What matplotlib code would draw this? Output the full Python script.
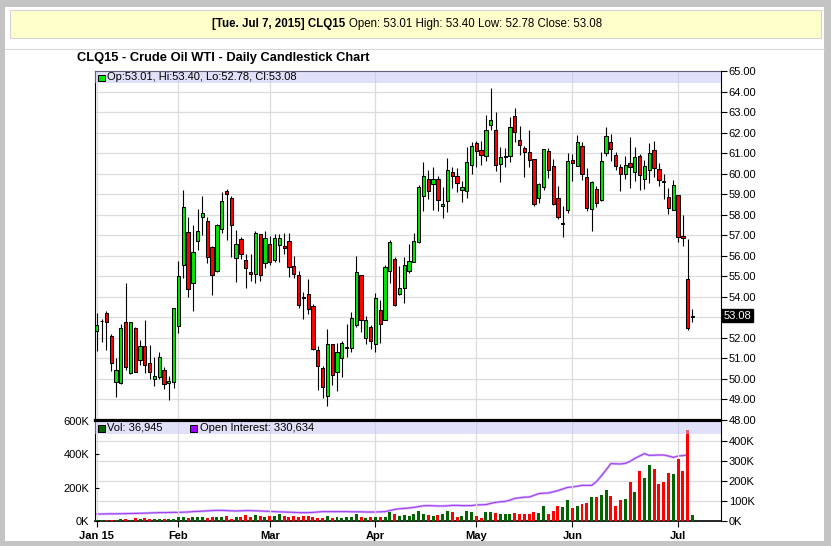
import matplotlib
matplotlib.use("Agg")
import matplotlib.pyplot as plt
from matplotlib.patches import Rectangle
from matplotlib.ticker import FixedLocator, FuncFormatter
import numpy as np

plt.rcParams['font.family'] = ['Liberation Sans', 'DejaVu Sans']

# daily OHLC, Jan 2015 - Jul 7 2015
opens = [52.34, 52.80, 53.20, 52.10, 49.84, 49.78, 52.77, 50.27, 52.47, 50.92,
         51.61, 50.77, 50.02, 50.09, 50.43, 49.81, 49.84, 52.57, 55.54, 57.15,
         54.65, 56.71, 57.88, 57.69, 56.44, 55.28, 57.30, 59.16, 58.82, 55.87,
         56.82, 55.79, 55.22, 55.09, 57.07, 55.64, 56.56, 55.79, 56.52, 56.46,
         56.71, 55.52, 55.08, 54.01, 54.16, 53.57, 51.43, 50.51, 49.19, 51.68,
         50.34, 51.04, 51.52, 51.53, 52.65, 55.04, 51.97, 52.54, 51.72, 53.38,
         52.89, 55.25, 55.83, 54.16, 54.41, 55.28, 55.69, 56.68, 58.90, 59.73,
         59.52, 59.73, 58.40, 58.66, 60.07, 59.88, 59.19, 59.16, 60.44, 61.48,
         61.13, 60.88, 62.39, 62.12, 60.46, 60.79, 60.85, 62.80, 61.63, 61.24,
         61.05, 60.70, 58.81, 59.34, 61.09, 60.36, 58.81, 57.55, 58.24, 60.67,
         60.38, 61.34, 59.83, 58.28, 59.27, 58.71, 61.02, 61.56, 60.92, 60.34,
         60.00, 60.53, 60.08, 60.87, 59.74, 60.19, 61.17, 60.24, 59.66, 58.84,
         58.23, 58.97, 56.94, 54.88, 53.01]
highs = [53.20, 52.91, 53.32, 52.20, 51.01, 52.67, 54.67, 52.77, 52.54, 51.89,
         52.88, 51.63, 51.08, 51.31, 50.56, 50.12, 53.45, 55.75, 59.21, 57.90,
         57.49, 58.29, 58.89, 57.88, 56.48, 57.54, 59.10, 59.26, 58.92, 57.26,
         56.91, 56.09, 56.09, 57.21, 57.07, 57.21, 56.97, 57.07, 57.07, 57.13,
         57.13, 55.98, 55.25, 54.24, 54.89, 53.67, 51.59, 50.62, 52.42, 51.69,
         51.77, 51.85, 52.67, 53.25, 55.98, 55.04, 53.07, 52.65, 54.19, 53.83,
         55.56, 56.78, 55.93, 55.51, 55.92, 56.58, 57.10, 59.45, 60.57, 60.19,
         60.33, 59.88, 59.34, 60.75, 60.30, 60.27, 59.62, 61.32, 61.56, 61.60,
         61.60, 62.88, 64.18, 63.00, 61.29, 61.24, 62.78, 63.20, 62.33, 61.35,
         62.12, 60.70, 59.54, 61.19, 61.27, 60.72, 59.41, 58.40, 61.00, 60.96,
         61.87, 61.52, 60.27, 59.66, 59.38, 61.07, 62.25, 61.91, 61.07, 60.47,
         60.84, 61.80, 61.31, 60.95, 60.68, 61.51, 61.57, 60.52, 59.96, 59.28,
         59.70, 58.97, 57.97, 56.80, 53.40]
lows = [51.34, 51.82, 51.39, 50.41, 49.10, 49.76, 50.44, 50.23, 50.36, 50.69,
        50.27, 50.00, 49.68, 49.99, 49.52, 48.98, 49.54, 52.26, 54.94, 53.98,
        53.33, 56.26, 57.02, 55.64, 54.07, 55.23, 57.13, 56.78, 55.96, 54.70,
        55.83, 54.45, 54.75, 54.67, 54.76, 55.38, 55.57, 55.70, 55.70, 56.11,
        54.97, 54.94, 53.46, 52.93, 53.14, 51.40, 49.48, 49.05, 48.70, 49.71,
        49.42, 50.10, 51.07, 51.32, 52.54, 52.29, 51.72, 51.45, 51.29, 51.77,
        52.89, 54.67, 53.56, 54.10, 53.72, 55.18, 55.69, 56.63, 58.20, 58.77,
        58.25, 58.20, 57.83, 58.12, 59.31, 59.10, 58.64, 58.79, 59.97, 60.31,
        60.44, 60.64, 62.13, 60.14, 59.58, 60.31, 60.59, 61.55, 60.90, 59.86,
        60.30, 58.40, 58.59, 59.19, 59.81, 58.48, 57.78, 56.91, 58.07, 59.62,
        60.35, 59.67, 58.20, 57.20, 58.36, 58.67, 60.86, 60.63, 60.16, 59.15,
        59.72, 59.30, 59.64, 59.22, 59.25, 59.54, 59.82, 59.38, 58.76, 58.05,
        58.23, 56.67, 56.49, 52.40, 52.78]
closes = [52.62, 52.83, 52.75, 50.77, 50.43, 52.47, 50.56, 52.77, 50.36, 51.61,
          50.67, 50.33, 50.14, 51.06, 49.75, 49.91, 53.45, 55.00, 58.37, 54.36,
          56.19, 57.20, 58.07, 55.92, 55.04, 57.51, 58.66, 59.03, 57.49, 56.56,
          56.09, 55.38, 55.09, 57.12, 55.04, 56.86, 55.70, 56.86, 56.86, 56.37,
          55.43, 55.13, 53.59, 53.95, 53.41, 51.46, 50.65, 49.61, 51.68, 50.21,
          51.29, 51.77, 51.54, 52.99, 55.23, 52.86, 52.86, 51.84, 53.96, 52.67,
          55.46, 56.66, 53.61, 54.42, 55.54, 55.74, 56.71, 59.34, 59.88, 59.15,
          59.76, 58.71, 58.51, 60.17, 59.88, 59.54, 59.36, 60.56, 61.34, 61.09,
          60.90, 62.12, 62.60, 60.40, 60.83, 60.87, 62.26, 62.02, 61.39, 61.05,
          60.67, 58.50, 59.49, 61.19, 60.17, 58.51, 57.90, 57.57, 60.61, 60.51,
          61.53, 59.96, 58.35, 59.57, 58.58, 60.63, 61.85, 61.20, 60.35, 60.00,
          60.44, 60.32, 60.82, 59.95, 60.39, 61.02, 60.29, 59.70, 59.59, 58.34,
          59.46, 56.91, 56.88, 52.46, 53.08]

# volume, thousands of contracts
volume_k = [6, 6, 6, 6, 6, 12, 14, 8, 18, 14,
            20, 14, 14, 14, 14, 14, 14, 24, 24, 18,
            24, 24, 24, 18, 24, 24, 24, 32, 12, 24,
            24, 36, 26, 36, 30, 26, 30, 30, 40, 30,
            26, 30, 26, 30, 30, 26, 16, 16, 30, 16,
            24, 16, 24, 24, 40, 24, 16, 24, 24, 24,
            24, 54, 40, 30, 36, 30, 42, 60, 42, 36,
            30, 36, 42, 60, 54, 24, 30, 60, 54, 30,
            18, 54, 54, 48, 42, 42, 42, 48, 42, 42,
            42, 54, 48, 91, 42, 60, 91, 85, 127, 79,
            93, 103, 109, 147, 147, 157, 187, 151, 93, 127,
            133, 236, 175, 302, 260, 338, 314, 223, 236, 290,
            284, 374, 302, 544, 36.945]

# open interest, thousands (no value yet for the last session)
open_interest_k = [35, 35, 35.5, 36, 36, 36.5, 37, 37.5, 38, 38.5,
                   39, 40, 41, 42, 42, 42.5, 43, 43, 44, 45,
                   47, 48, 49, 51, 52, 53, 53, 52, 51, 50,
                   51, 52, 52, 51, 50, 49, 48, 47, 46, 45,
                   44, 43, 42, 42, 42, 43, 45, 47, 47, 47,
                   47, 47, 47, 46, 46, 46, 45, 45, 45, 46,
                   47, 52, 58, 61, 63, 65, 68, 72, 76, 77,
                   76, 75, 75, 76, 78, 78, 77, 77, 77, 80,
                   81, 82, 88, 93, 96, 98, 104, 113, 116, 119,
                   120, 128, 137, 139, 140, 146, 152, 160, 168, 170,
                   174, 178, 178, 178, 197, 225, 255, 287, 286, 285,
                   288, 298, 313, 325, 337, 328, 329, 330, 330, 325,
                   318, 325, 327, 330.634, np.nan]

month_labels = ["Jan 15", "Feb", "Mar", "Apr", "May", "Jun", "Jul"]
month_starts = [0, 17, 36, 58, 79, 99, 121]

W, H = 831, 546


def fx(px):
    return px / W


def fy(py):
    return 1 - py / H


fig = plt.figure(figsize=(W / 100, H / 100), dpi=100)
fig.patch.set_facecolor('#c4c4c4')
fig.add_artist(Rectangle((fx(5), fy(541)), fx(819), 534 / H, transform=fig.transFigure,
                         facecolor='white', edgecolor='none', zorder=-10))

# header box
fig.add_artist(Rectangle((fx(9.5), fy(38)), fx(811.5), 28 / H, transform=fig.transFigure,
                         facecolor='#ffffcc', edgecolor='#d4d4d4', linewidth=0.8, zorder=1))
fig.text(fx(345), fy(23.5), "[Tue. Jul 7, 2015] CLQ15", ha='right', va='center',
         fontsize=8.3, fontweight='bold')
fig.text(fx(349), fy(23.5), "Open: 53.01 High: 53.40 Low: 52.78 Close: 53.08", ha='left',
         va='center', fontsize=8.3)
fig.add_artist(plt.Line2D([fx(5), fx(824)], [fy(49), fy(49)], transform=fig.transFigure,
                          color='#d8d8d8', linewidth=0.8))
fig.text(fx(77), fy(58.5), "CLQ15 - Crude Oil WTI - Daily Candlestick Chart", ha='left',
         va='center', fontsize=9.3, fontweight='bold')

left_px, right_px = 95, 721
x = np.arange(len(opens))
x_lo = (left_px - 96.8) / 4.804
x_hi = (right_px - 96.8) / 4.804

ax = fig.add_axes([fx(left_px), fy(420), (right_px - left_px) / W, 349 / H])
axv = fig.add_axes([fx(left_px), fy(521), (right_px - left_px) / W, 100 / H], sharex=ax)

o = np.array(opens)
c = np.array(closes)
up = c >= o

# price candles
ax.vlines(x, lows, highs, color='black', linewidth=0.8, zorder=3)
ax.bar(x, np.maximum(np.abs(c - o), 0.03), bottom=np.minimum(o, c), width=0.68,
       color=np.where(up, '#00e600', '#ff0000'), edgecolor='black', linewidth=0.75, zorder=4)

ax.set_xlim(x_lo, x_hi)
ax.set_ylim(48, 65)
ax.yaxis.tick_right()
ax.set_yticks(np.arange(48, 66))
# the 53.00 label sits under the last-price tag
ax.yaxis.set_major_formatter(FuncFormatter(lambda v, p: "" if round(v) == 53 else f"{v:.2f}"))
ax.tick_params(axis='y', labelsize=8, length=4, width=0.8, pad=1.5)
ax.tick_params(axis='x', bottom=False, labelbottom=False)
ax.set_xticks(month_starts)
ax.grid(True, color='#dcdcdc', linewidth=0.9)
ax.set_axisbelow(True)
for s in ax.spines.values():
    s.set_linewidth(0.8)
ax.spines['bottom'].set_linewidth(1.6)

# last price tag
ax.text(1.004, closes[-1], f"{closes[-1]:.2f}", transform=ax.get_yaxis_transform(),
        ha='left', va='center', fontsize=8, color='white', zorder=6,
        bbox=dict(boxstyle='square,pad=0.12', facecolor='black', edgecolor='black'))

# volume and open interest
axv.bar(x, volume_k, width=0.62, color=np.where(up, '#006400', '#ff0000'), zorder=3)
axv.set_ylim(0, 600)
axv.yaxis.set_major_locator(FixedLocator([0, 200, 400, 600]))
axv.yaxis.set_major_formatter(FuncFormatter(lambda v, p: f"{int(v)}K"))
axv.tick_params(axis='y', labelsize=8, length=3, width=0.8, direction='in', pad=4)
axv.set_xticks(month_starts)
axv.set_xticklabels(month_labels, fontweight='bold', fontsize=8)
axv.tick_params(axis='x', length=4, width=0.8, pad=3)
axv.grid(True, axis='x', color='#dcdcdc', linewidth=0.9)
axv.set_axisbelow(True)
for s in axv.spines.values():
    s.set_linewidth(0.8)
axv.spines['top'].set_linewidth(1.6)
axv.spines['bottom'].set_linewidth(1.2)

axo = axv.twinx()
axo.plot(x, open_interest_k, color='#d4b4ff', linewidth=1.8, zorder=2)
axo.plot(x, open_interest_k, color='#a040f0', linewidth=0.8, zorder=3)
axo.set_ylim(0, 500)
axo.yaxis.set_major_locator(FixedLocator([0, 100, 200, 300, 400]))
axo.yaxis.set_major_formatter(FuncFormatter(lambda v, p: f"{int(v)}K"))
axo.tick_params(axis='y', labelsize=8, length=4, width=0.8, pad=1.5)
axo.grid(True, color='#dcdcdc', linewidth=0.9)
axo.set_zorder(axv.get_zorder() - 1)
axv.patch.set_visible(False)
axo.patch.set_facecolor('white')
for s in axo.spines.values():
    s.set_visible(False)

# legend bands (translucent, drawn above the panels)
band = '#c3c3f5'
fig.add_artist(Rectangle((fx(left_px), fy(83)), (right_px - left_px) / W, 12 / H,
                         transform=fig.transFigure, facecolor=band, alpha=0.5,
                         edgecolor='none', zorder=2))
fig.add_artist(Rectangle((fx(left_px), fy(434)), (right_px - left_px) / W, 12.5 / H,
                         transform=fig.transFigure, facecolor=band, alpha=0.5,
                         edgecolor='none', zorder=2))

fig.add_artist(Rectangle((fx(98), fy(81)), 6.5 / W, 6.5 / H, transform=fig.transFigure,
                         facecolor='#00e600', edgecolor='black', linewidth=0.7, zorder=3))
fig.text(fx(107), fy(77.5), "Op:53.01, Hi:53.40, Lo:52.78, Cl:53.08", ha='left',
         va='center', fontsize=8)
fig.add_artist(Rectangle((fx(98), fy(431.5)), 6.5 / W, 6.5 / H, transform=fig.transFigure,
                         facecolor='#006400', edgecolor='black', linewidth=0.7, zorder=3))
fig.text(fx(107), fy(428), "Vol: 36,945", ha='left', va='center', fontsize=8)
fig.add_artist(Rectangle((fx(190), fy(431.5)), 6.5 / W, 6.5 / H, transform=fig.transFigure,
                         facecolor='#9900ff', edgecolor='black', linewidth=0.7, zorder=3))
fig.text(fx(200), fy(428), "Open Interest: 330,634", ha='left', va='center', fontsize=8)

fig.savefig("out.png", dpi=100, facecolor=fig.get_facecolor())
